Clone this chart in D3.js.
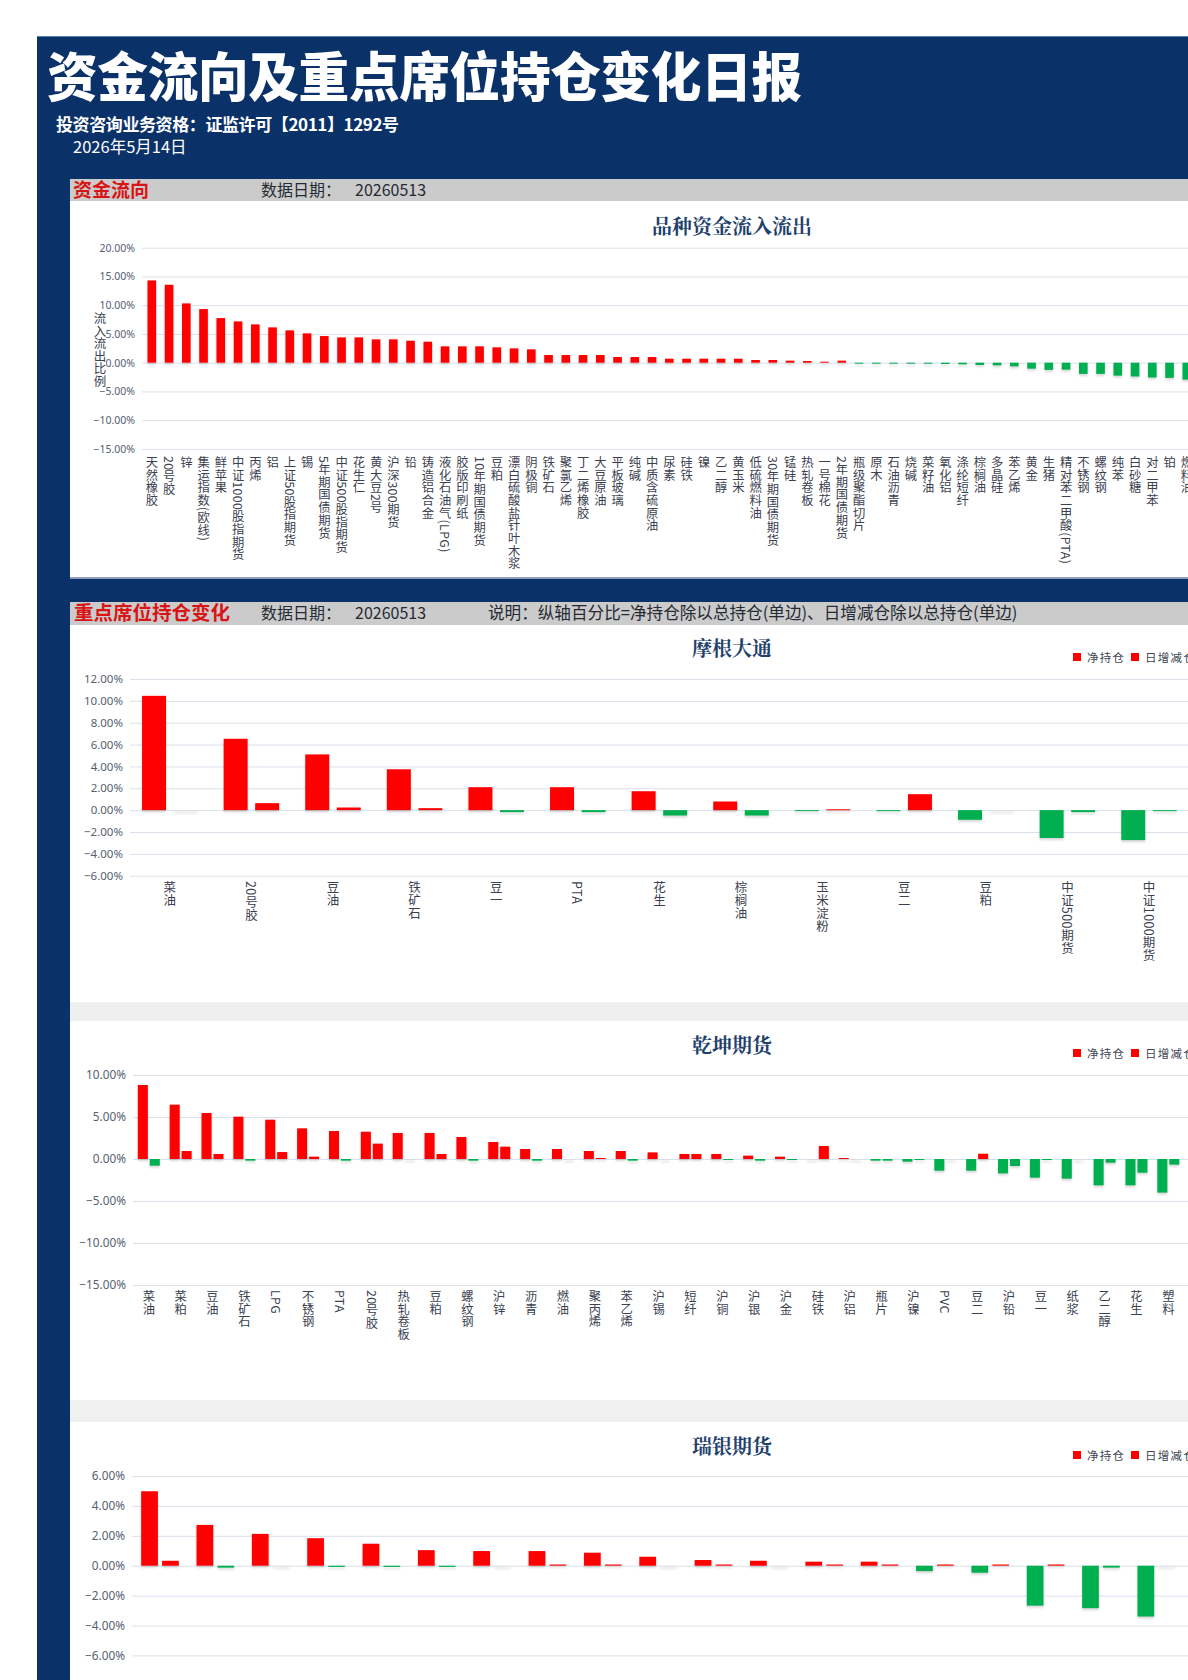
<!DOCTYPE html>
<html><head><meta charset="utf-8">
<script src="https://cdn.jsdelivr.net/npm/d3@7"></script>
<style>
html,body{margin:0;padding:0;overflow:hidden;background:#fff;}
svg text{font-family:"Noto Sans CJK SC","Noto Sans",sans-serif;}
.vlab{writing-mode:vertical-rl;text-orientation:mixed;}
</style></head><body>
<svg id="c" width="1188" height="1700"></svg>
<script>
// ---------------- DATA ----------------
const flowCategories = ["天然橡胶","20号胶","锌","集运指数(欧线)","鲜苹果","中证1000股指期货","丙烯","铝","上证50股指期货","锡","5年期国债期货","中证500股指期货","花生仁","黄大豆2号","沪深300期货","铅","铸造铝合金","液化石油气(LPG)","胶版印刷纸","10年期国债期货","豆粕","漂白硫酸盐针叶木浆","阴极铜","铁矿石","聚氯乙烯","丁二烯橡胶","大豆原油","平板玻璃","纯碱","中质含硫原油","尿素","硅铁","镍","乙二醇","黄玉米","低硫燃料油","30年期国债期货","锰硅","热轧卷板","一号棉花","2年期国债期货","瓶级聚酯切片","原木","石油沥青","烧碱","菜籽油","氧化铝","涤纶短纤","棕榈油","多晶硅","苯乙烯","黄金","生猪","精对苯二甲酸(PTA)","不锈钢","螺纹钢","纯苯","白砂糖","对二甲苯","铂","燃料油"];
const flowValues = [14.31,13.56,10.31,9.33,7.76,7.18,6.66,6.14,5.62,5.10,4.63,4.40,4.40,4.06,4.06,3.82,3.65,2.84,2.84,2.84,2.67,2.49,2.32,1.33,1.33,1.33,1.33,0.98,0.98,0.98,0.69,0.69,0.69,0.69,0.69,0.46,0.46,0.35,0.29,0.17,0.35,-0.17,-0.17,-0.05,-0.05,-0.17,-0.23,-0.29,-0.40,-0.46,-0.64,-1.04,-1.25,-1.21,-1.95,-1.95,-2.25,-2.40,-2.57,-2.64,-2.95];
const flowTicks = [20,15,10,5,0,-5,-10,-15];

const jpmCategories = ["菜油","20号胶","豆油","铁矿石","豆一","PTA","花生","棕榈油","玉米淀粉","豆二","豆粕","中证500期货","中证1000期货"];
const jpmNet   = [10.46,6.53,5.10,3.74,2.10,2.10,1.73,0.79,-0.08,-0.08,-0.88,-2.55,-2.74];
const jpmDaily = [0,0.64,0.24,0.18,-0.18,-0.18,-0.49,-0.49,0.08,1.46,0,-0.18,-0.08];
const jpmTicks = [12,10,8,6,4,2,0,-2,-4,-6];

const qkCategories = ["菜油","菜粕","豆油","铁矿石","LPG","不锈钢","PTA","20号胶","热轧卷板","豆粕","螺纹钢","沪锌","沥青","燃油","聚丙烯","苯乙烯","沪锡","短纤","沪铜","沪银","沪金","硅铁","沪铝","瓶片","沪镍","PVC","豆二","沪铅","豆一","纸浆","乙二醇","花生","塑料"];
const qkNet   = [8.81,6.47,5.48,5.04,4.68,3.65,3.33,3.25,3.10,3.10,2.62,2.02,1.19,1.19,0.95,0.95,0.79,0.60,0.60,0.40,0.28,0,0.12,-0.20,-0.32,-1.39,-1.39,-1.71,-2.22,-2.34,-3.13,-3.13,-4.00];
const qkDaily = [-0.79,0.95,0.60,-0.20,0.83,0.28,-0.20,1.83,0,0.60,-0.20,1.47,-0.20,0,0.12,-0.20,0,0.60,-0.12,-0.20,-0.12,1.55,0,-0.20,-0.12,0,0.63,-0.83,-0.12,0,-0.44,-1.63,-0.67];
const qkTicks = [10,5,0,-5,-10,-15];

const ubsCategories = ["品种1","品种2","品种3","品种4","品种5","品种6","品种7","品种8","品种9","品种10","品种11","品种12","品种13","品种14","品种15","品种16","品种17","品种18","品种19"];
const ubsNet   = [4.98,2.73,2.13,1.84,1.47,1.04,0.98,0.98,0.87,0.60,0.38,0.33,0.27,0.27,-0.36,-0.47,-2.67,-2.84,-3.40];
const ubsDaily = [0.33,-0.13,0,-0.08,-0.08,-0.08,0,0.08,0.08,0,0.08,0,0.08,0.08,0.08,0.08,0.08,-0.13,0];
const ubsTicks = [6,4,2,0,-2,-4,-6,-8];

const seriesNames = ["净持仓","日增减仓"];

// ---------------- STYLE ----------------
const NAVY = "#0b3169", RED = "#ff0000", GREEN = "#00b050";
const GRID = "#d9e0ea", TICK = "#56606f", LAB = "#3b4150", TITLE = "#233f6b";
const W = 1188;
const fmt = v => d3.format(".2f")(v) + "%";
const col = v => v >= 0 ? RED : GREEN;

const svg = d3.select("#c");
const defs = svg.append("defs");
defs.append("filter").attr("id","blur").attr("x","-20%").attr("y","-20%").attr("width","140%").attr("height","160%")
  .append("feGaussianBlur").attr("stdDeviation",0.9);

// background
svg.append("rect").attr("x",37).attr("y",36).attr("width",W).attr("height",1700).attr("fill",NAVY);
svg.append("line").attr("x1",37).attr("x2",W).attr("y1",36.5).attr("y2",36.5).attr("stroke","#5d7fb0").attr("stroke-width",1);

// header
svg.append("text").attr("transform","translate(47,96.5) scale(0.955,1)").attr("fill","#fff")
  .style("font-size","53px").style("font-weight",900).style("letter-spacing","-0.3px")
  .text("资金流向及重点席位持仓变化日报");
svg.append("text").attr("x",56).attr("y",130.5).attr("fill","#fff")
  .style("font-size","17px").style("font-weight",700).style("letter-spacing","-0.4px")
  .text("投资咨询业务资格：证监许可【2011】1292号");
svg.append("text").attr("x",73).attr("y",153).attr("fill","#fff")
  .style("font-size","16.5px").text("2026年5月14日");

// section 1 band + panel
svg.append("rect").attr("x",70).attr("y",179).attr("width",W).attr("height",22).attr("fill","#cbcbcb");
svg.append("text").attr("x",73).attr("y",197).attr("fill","#d81414").style("font-size","19px").style("font-weight",700).text("资金流向");
svg.append("text").attr("x",261).attr("y",196).attr("fill","#262a33").style("font-size","16px").text("数据日期：");
svg.append("text").attr("x",355).attr("y",196).attr("fill","#262a33").style("font-size","16px").text("20260513");
svg.append("rect").attr("x",70).attr("y",201).attr("width",W).attr("height",377).attr("fill","#fff");
svg.append("line").attr("x1",70).attr("x2",W).attr("y1",578).attr("y2",578).attr("stroke","#8d9fbd").attr("stroke-width",2);

// section 2 band + panel
svg.append("rect").attr("x",70).attr("y",602).attr("width",W).attr("height",23).attr("fill","#cbcbcb");
svg.append("text").attr("x",74).attr("y",620).attr("fill","#d81414").style("font-size","19.5px").style("font-weight",700).text("重点席位持仓变化");
svg.append("text").attr("x",261).attr("y",619).attr("fill","#262a33").style("font-size","16px").text("数据日期：");
svg.append("text").attr("x",355).attr("y",619).attr("fill","#262a33").style("font-size","16px").text("20260513");
svg.append("text").attr("x",488).attr("y",619).attr("fill","#262a33").style("font-size","16.6px")
  .text("说明：纵轴百分比=净持仓除以总持仓(单边)、日增减仓除以总持仓(单边)");
svg.append("rect").attr("x",70).attr("y",625).attr("width",W).attr("height",1100).attr("fill","#fff");
svg.append("rect").attr("x",70).attr("y",1002).attr("width",W).attr("height",19).attr("fill","#efefef");
svg.append("rect").attr("x",70).attr("y",1400).attr("width",W).attr("height",22).attr("fill","#f0f0f0");

function chartTitle(txt, cy){
  svg.append("text").attr("x",732).attr("y",cy).attr("text-anchor","middle").attr("dominant-baseline","central")
    .attr("fill",TITLE).style("font-size","20px").style("font-weight",700)
    .style("font-family",'"Noto Serif CJK SC","Noto Sans CJK SC",serif').text(txt);
}
function legend(cy){
  const g = svg.append("g");
  const xs = [1073,1131];
  seriesNames.forEach((n,i)=>{
    g.append("rect").attr("x",xs[i]).attr("y",cy-4).attr("width",8).attr("height",8).attr("fill",RED);
    g.append("text").attr("x",xs[i]+14).attr("y",cy).attr("dominant-baseline","central")
      .attr("fill","#404552").style("font-size","11.5px").style("letter-spacing","1.3px").text(n);
  });
}
function yAxis(y, ticks, axisX, fontSize){
  const g = svg.append("g").attr("transform",`translate(${axisX},0)`)
    .call(d3.axisLeft(y).tickValues(ticks).tickFormat(fmt).tickSize(-(W-axisX+20)).tickPadding(7));
  g.select(".domain").remove();
  g.selectAll(".tick line").attr("stroke",GRID).attr("stroke-width",1);
  g.selectAll(".tick text").attr("fill",TICK).style("font-size",fontSize).style("font-family",'"Noto Sans","Noto Sans CJK SC",sans-serif');
}
function xAxis(x, labelTop, fontSize){
  const g = svg.append("g").attr("transform",`translate(0,${labelTop})`)
    .call(d3.axisBottom(x).tickSize(0).tickPadding(0));
  g.select(".domain").remove();
  g.selectAll(".tick text").attr("class","vlab").attr("y",0).attr("x",0).attr("dy",0)
    .attr("text-anchor","start").attr("fill",LAB).style("font-size",fontSize).style("letter-spacing","0.4px");
}
function bars(g, data, y){
  const y0 = y(0);
  // soft shadow
  g.append("g").attr("filter","url(#blur)").selectAll("rect").data(data).join("rect")
    .attr("x",d=>d.x).attr("width",d=>d.w)
    .attr("y",d=>Math.min(y(d.v),y0)+2)
    .attr("height",d=>Math.max(Math.abs(y(d.v)-y0),1.2))
    .attr("fill","#000").attr("opacity",0.16);
  g.append("g").selectAll("rect").data(data.filter(d=>d.v!==0)).join("rect")
    .attr("x",d=>d.x).attr("width",d=>d.w)
    .attr("y",d=>Math.min(y(d.v),y0))
    .attr("height",d=>Math.max(Math.abs(y(d.v)-y0),1))
    .attr("fill",d=>col(d.v));
}

// ---------------- CHART 1: 品种资金流入流出 ----------------
(function(){
  chartTitle("品种资金流入流出",225);
  const step = 17.25, first = 151.8;
  const x = d3.scaleBand().domain(flowCategories)
    .range([first-step/2, first-step/2+step*flowCategories.length]).paddingInner(0.5).paddingOuter(0.25);
  const y = d3.scaleLinear().domain([-15,20]).range([448.9,247.7]);
  yAxis(y, flowTicks, 142, "10.5px");
  const data = flowCategories.map((c,i)=>({x:x(c), w:x.bandwidth(), v:flowValues[i]}));
  bars(svg.append("g"), data, y);
  xAxis(x, 456, "12.3px");
  svg.append("text").attr("class","vlab").attr("x",100).attr("y",312).attr("fill","#3d4250")
    .style("font-size","12.5px").text("流入流出比例");
})();

// ---------------- grouped charts ----------------
function grouped(cats, net, daily, ticks, o){
  chartTitle(o.title, o.titleY);
  legend(o.legendY);
  const x = d3.scaleBand().domain(cats)
    .range([o.first-o.step/2, o.first-o.step/2+o.step*cats.length]).paddingInner(o.pad).paddingOuter(o.pad/2);
  const xs = d3.scaleBand().domain(["net","daily"]).range([0,x.bandwidth()]).paddingInner(o.sub);
  const y = d3.scaleLinear().domain(o.domain).range(o.range);
  yAxis(y, ticks, o.axisX, o.tickFont);
  const data = [];
  cats.forEach((c,i)=>{
    data.push({x:x(c)+xs("net"), w:xs.bandwidth(), v:net[i]});
    data.push({x:x(c)+xs("daily"), w:xs.bandwidth(), v:daily[i]});
  });
  bars(svg.append("g"), data, y);
  xAxis(x, o.labelTop, o.labFont);
}

grouped(jpmCategories, jpmNet, jpmDaily, jpmTicks, {
  title:"摩根大通", titleY:647, legendY:657, first:169.8, step:81.6, pad:0.32, sub:0.24,
  domain:[-6,12], range:[875.7,679], axisX:130, tickFont:"11.5px", labelTop:881, labFont:"12.5px"});

grouped(qkCategories, qkNet, qkDaily, qkTicks, {
  title:"乾坤期货", titleY:1044, legendY:1053, first:148.8, step:31.86, pad:0.31, sub:0.16,
  domain:[-15,10], range:[1285,1075], axisX:133, tickFont:"11.8px", labelTop:1290, labFont:"12.3px"});

grouped(ubsCategories, ubsNet, ubsDaily, ubsTicks, {
  title:"瑞银期货", titleY:1445, legendY:1455, first:160, step:55.35, pad:0.32, sub:0.2,
  domain:[-8,6], range:[1685.3,1476], axisX:132, tickFont:"11.8px", labelTop:1692, labFont:"12.3px"});
</script>
</body></html>
